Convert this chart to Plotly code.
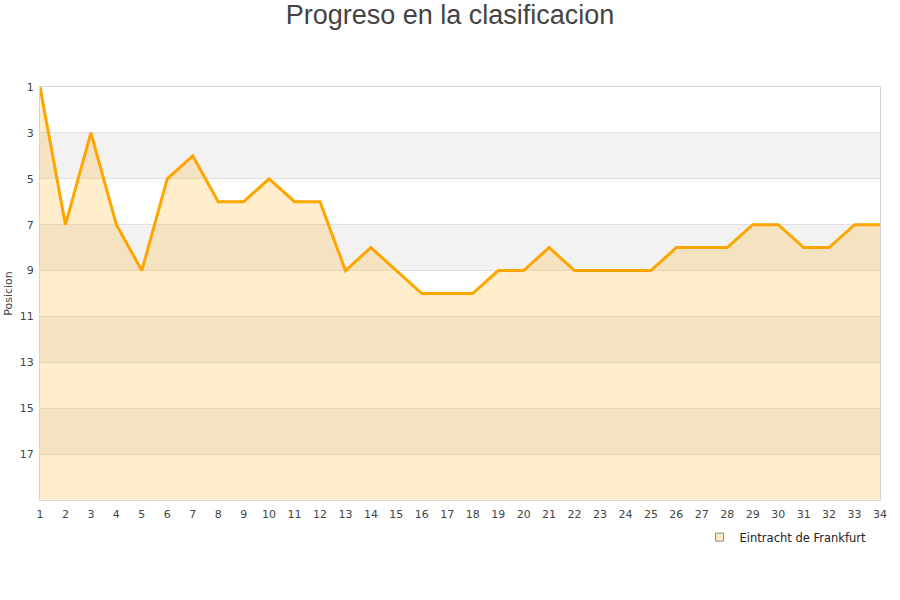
import plotly.graph_objects as go

jornadas = list(range(1, 35))
posiciones = [1, 7, 3, 7, 9, 5, 4, 6, 6, 5, 6, 6, 9, 8, 9, 10, 10, 10, 9, 9,
              8, 9, 9, 9, 9, 8, 8, 8, 7, 7, 8, 8, 7, 7]
equipo = "Eintracht de Frankfurt"
fondo = 19
bandas = [(3, 5), (7, 9), (11, 13), (15, 17)]

fig = go.Figure()

# base line at the bottom so the area fills downwards
fig.add_trace(go.Scatter(
    x=jornadas, y=[fondo] * len(jornadas), mode="lines",
    line=dict(width=0), showlegend=False, hoverinfo="skip"))

fig.add_trace(go.Scatter(
    x=jornadas, y=posiciones, mode="lines", name=equipo,
    line=dict(color="#ffa500", width=3),
    fill="tonexty", fillcolor="rgba(255,165,0,0.2)", showlegend=False))

# legend entry only
fig.add_trace(go.Scatter(
    x=[None], y=[None], mode="markers", name=equipo,
    marker=dict(symbol="square", size=8, color="#fde9c4",
                line=dict(color="#8a8a8a", width=1))))

for y0, y1 in bandas:
    fig.add_shape(type="rect", xref="paper", x0=0, x1=1, yref="y", y0=y0, y1=y1,
                  fillcolor="#f2f2f2", line=dict(width=0), layer="below")

fig.update_layout(
    width=900, height=600,
    title=dict(text="Progreso en la clasificacion", x=0.5, y=0.975,
               xanchor="center", yanchor="middle",
               font=dict(family="Liberation Sans, Arial", size=27, color="#444")),
    paper_bgcolor="white", plot_bgcolor="white",
    margin=dict(l=40, r=20, t=87, b=100),
    font=dict(family="DejaVu Sans", size=11, color="#444"),
    legend=dict(x=0.99, xanchor="right", y=-0.09, yanchor="middle",
                font=dict(size=11.5, color="#222"), bgcolor="rgba(0,0,0,0)"),
    xaxis=dict(range=[1, 34], tickmode="array", tickvals=jornadas,
               showgrid=False, zeroline=False, showline=True, linecolor="#d6d6d6",
               mirror=True, ticks="", automargin=False, ticklabelstandoff=4),
    yaxis=dict(range=[fondo, 1], tickmode="array", tickvals=list(range(1, 19, 2)),
               showgrid=True, gridcolor="#e0e0e0", zeroline=False, showline=True,
               linecolor="#d6d6d6", mirror=True, ticks="", automargin=False,
               ticklabelstandoff=3,
               title=dict(text="Posicion", standoff=4, font=dict(size=11))),
)

# drop the page's default body margin so the figure sits at the top-left corner
fig.write_html("out.html", config={"displayModeBar": False},
               post_script="document.body.style.margin='0';")
